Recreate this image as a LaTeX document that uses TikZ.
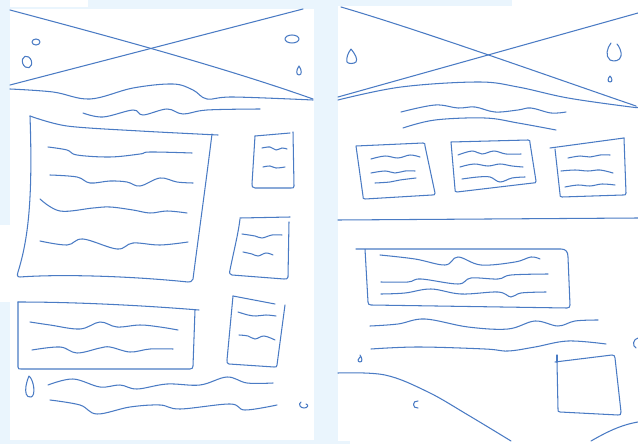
\documentclass[tikz,border=0pt]{standalone}
\usetikzlibrary{calc}
\definecolor{bgblue}{HTML}{EAF5FD}
\definecolor{pen}{HTML}{4A7BC4}
\tikzset{
  ink/.style={draw=pen, line width=1.05pt, line cap=round, line join=round},
  wave/.style={ink},
  sheet/.style={fill=white, draw=none}
}
\begin{document}
\begin{tikzpicture}[x=1pt,y=-1pt]
\useasboundingbox (0,0) rectangle (638,444);
% background
\fill[bgblue] (0,0) rectangle (638,444);
\fill[white] (10,9) rectangle (314,440);
\fill[white] (10,0) rectangle (88,7);
\fill[white] (0,225) rectangle (10,302);
\fill[white] (338,6) rectangle (638,441);
\fill[white] (512,0) rectangle (638,6);
\fill[white] (350,441) rectangle (638,444);

% ================= LEFT SHEET =================
% cross
\draw[ink] (10,10) .. controls (100,34) and (220,66) .. (313,99);
\draw[ink] (10,85) -- (303,9);
% dots
\draw[ink] (36,42) ellipse (4 and 3);
\draw[ink, rotate around={20:(27,62)}] (27,62) ellipse (4.5 and 6);
\draw[ink] (292,39) ellipse (7 and 4);
\draw[ink] (299,66) .. controls (302,70) and (302,75) .. (299,75) .. controls (296,75) and (296,70) .. cycle;
% hill line
\draw[ink] plot[smooth, tension=0.6] coordinates {(10,89) (53,92) (90,99) (133,88) (173,84) (193,90) (207,99) (233,97) (313,100)};
% title wave
\draw[wave] plot[smooth, tension=0.6] coordinates {(83,113) (103,117) (133,110) (143,115) (167,109) (183,114) (207,110) (260,109)};

% big box
\draw[ink] plot[smooth, tension=0.5] coordinates {(30,116) (67,126) (140,131) (218,135)};
\draw[ink] (212,134) .. controls (205,190) and (198,240) .. (193,279) .. controls (192,282) and (190,282) .. (188,282)
  .. controls (130,276) and (60,274) .. (20,277) .. controls (17,277) and (17,275) .. (18,272)
  .. controls (28,240) and (33,200) .. (30,116);
\draw[wave] plot[smooth, tension=0.6] coordinates {(48,147) (67,150) (77,155) (110,157) (140,154) (150,152) (192,153)};
\draw[wave] plot[smooth, tension=0.6] coordinates {(50,175) (77,177) (90,183) (110,181) (127,182) (140,186) (160,178) (177,182) (193,183)};
\draw[wave] plot[smooth, tension=0.6] coordinates {(40,199) (60,211) (93,208) (110,207) (133,210) (150,213) (167,211) (187,213)};
\draw[wave] plot[smooth, tension=0.6] coordinates {(40,241) (67,245) (83,239) (117,249) (133,243) (160,245) (188,242)};

% small box top right
\draw[ink] (255,136) -- (290,133);
\draw[ink] (293,132) -- (294,186) .. controls (294,188) and (293,188) .. (291,188) -- (255,188) .. controls (252,188) and (252,186) .. (252,184) -- (255,136);
\draw[wave] plot[smooth, tension=0.6] coordinates {(262,148) (270,147) (276,150) (282,148) (287,149)};
\draw[wave] plot[smooth, tension=0.6] coordinates {(263,167) (270,166) (276,168) (285,167)};

% box 2 right
\draw[ink] (240,218) -- (290,217);
\draw[ink] (289,222) -- (288,277) .. controls (288,279) and (286,279) .. (284,279) -- (232,275) .. controls (230,275) and (229,273) .. (230,270) .. controls (234,250) and (238,235) .. (240,219);
\draw[wave] plot[smooth, tension=0.6] coordinates {(242,234) (255,236) (262,238) (272,235) (282,235)};
\draw[wave] plot[smooth, tension=0.6] coordinates {(243,252) (252,254) (258,256) (266,253) (273,255)};

% box 3 bottom left
\draw[ink] (18,302) .. controls (80,302) and (150,306) .. (199,310);
\draw[ink] (18,302) -- (18,367) .. controls (18,369) and (19,369) .. (21,369) -- (190,369) .. controls (192,369) and (193,368) .. (193,366) -- (195,310);
\draw[wave] plot[smooth, tension=0.6] coordinates {(30,322) (50,325) (80,329) (100,322) (117,327) (140,325) (160,327) (178,330)};
\draw[wave] plot[smooth, tension=0.6] coordinates {(32,350) (60,347) (77,353) (100,348) (110,347) (130,352) (150,349) (173,349)};

% box 4 bottom right
\draw[ink] (233,296) -- (275,304);
\draw[ink] (285,305) -- (277,365) .. controls (277,367) and (276,367) .. (274,367) -- (229,364) .. controls (227,364) and (227,362) .. (227,360) -- (233,296);
\draw[wave] plot[smooth, tension=0.6] coordinates {(238,312) (248,315) (256,316) (266,315) (276,316)};
\draw[wave] plot[smooth, tension=0.6] coordinates {(239,335) (248,336) (255,339) (264,336) (275,340)};

% bottom text waves
\draw[wave] plot[smooth, tension=0.6] coordinates {(48,385) (73,379) (100,387) (120,385) (137,389) (167,384) (200,385) (227,377) (247,383) (273,383)};
\draw[wave] plot[smooth, tension=0.6] coordinates {(50,400) (80,405) (97,414) (130,407) (160,405) (180,409) (230,404) (245,410) (277,405)};
% drops
\draw[ink] (29,376) .. controls (34,380) and (36,396) .. (31,397) .. controls (26,398) and (25,392) .. (26,386) .. controls (27,381) and (28,378) .. (29,376);
\draw[ink] (301,402) .. controls (298,404) and (300,408) .. (304,408) .. controls (308,408) and (309,405) .. (306,404);

% ================= RIGHT SHEET =================
\draw[ink] (341,7) .. controls (420,30) and (560,80) .. (636,106);
\draw[ink] (338,97) -- (638,13);
\draw[ink] plot[smooth, tension=0.6] coordinates {(338,100) (401,87) (478,82) (518,87) (568,98) (631,107) (636,107)};
% drops
\draw[ink] (351,49) .. controls (355,54) and (358,59) .. (356,62) .. controls (354,64) and (348,64) .. (347,62) .. controls (346,58) and (348,53) .. (351,49);
\draw[ink] (611,43) .. controls (607,48) and (605,56) .. (610,60) .. controls (614,62) and (620,61) .. (621,56) .. controls (622,52) and (619,46) .. (617,44);
\draw[ink] (610,76) .. controls (612,78) and (613,82) .. (610,82) .. controls (607,82) and (608,78) .. (610,76);
% title waves
\draw[wave] plot[smooth, tension=0.6] coordinates {(401,112) (435,105) (458,108) (475,107) (495,112) (518,110) (531,108) (551,113) (566,112)};
\draw[wave] plot[smooth, tension=0.6] coordinates {(403,128) (435,120) (485,118) (518,123) (556,130)};

% three cards
\draw[ink] (356,146) -- (423,143) .. controls (425,143) and (425,144) .. (425,146) -- (435,193) .. controls (435,195) and (434,195) .. (432,195) -- (365,199) .. controls (363,199) and (363,198) .. (363,196) -- cycle;
\draw[wave] plot[smooth, tension=0.6] coordinates {(371,159) (385,156) (398,158) (410,155) (420,157)};
\draw[wave] plot[smooth, tension=0.6] coordinates {(371,173) (385,171) (395,173) (405,171) (415,171)};
\draw[wave] plot[smooth, tension=0.6] coordinates {(375,183) (390,182) (400,180) (416,178)};

\draw[ink] (451,142) -- (528,140) .. controls (530,140) and (530,141) .. (530,143) -- (536,181) .. controls (536,183) and (535,183) .. (533,183) -- (457,192) .. controls (455,192) and (455,191) .. (455,189) -- (451,142);
\draw[wave] plot[smooth, tension=0.6] coordinates {(458,155) (472,151) (482,154) (494,151) (506,154) (521,154)};
\draw[wave] plot[smooth, tension=0.6] coordinates {(460,167) (474,164) (488,166) (500,164) (512,166) (523,167)};
\draw[wave] plot[smooth, tension=0.6] coordinates {(462,179) (478,177) (490,177) (500,182) (512,178) (525,177)};

\draw[ink] (550,148) -- (624,138);
\draw[ink] (624,138) -- (626,193) .. controls (626,195) and (625,195) .. (623,195) -- (562,197) .. controls (560,197) and (560,196) .. (560,194) -- (555,149);
\draw[wave] plot[smooth, tension=0.6] coordinates {(568,158) (580,156) (590,157) (600,155) (610,155)};
\draw[wave] plot[smooth, tension=0.6] coordinates {(561,171) (575,170) (588,171) (600,170) (613,173)};
\draw[wave] plot[smooth, tension=0.6] coordinates {(565,187) (578,185) (590,186) (602,184) (615,185)};

% divider
\draw[ink] (338,220) -- (638,218);

% wide box
\draw[ink] (356,249) -- (561,249) .. controls (566,249) and (568,252) .. (568,257) -- (570,305) .. controls (570,307) and (569,308) .. (567,308) -- (371,305) .. controls (369,305) and (368,304) .. (368,302) -- (365,249);
\draw[wave] plot[smooth, tension=0.6] coordinates {(380,255) (415,259) (445,265) (458,257) (481,265) (515,262) (531,257) (540,259)};
\draw[wave] plot[smooth, tension=0.6] coordinates {(381,282) (408,282) (421,279) (458,284) (471,278) (498,279) (511,275) (548,274)};
\draw[wave] plot[smooth, tension=0.6] coordinates {(381,294) (405,293) (431,289) (461,294) (498,292) (511,297) (521,293) (546,292)};

% waves below
\draw[wave] plot[smooth, tension=0.6] coordinates {(370,326) (398,324) (425,319) (468,327) (508,329) (535,321) (558,326) (575,321) (598,320)};
\draw[wave] plot[smooth, tension=0.6] coordinates {(371,349) (418,347) (485,349) (508,351) (535,347) (568,341) (606,344)};

% small marks
\draw[ink] (360,355) .. controls (362,358) and (363,362) .. (360,362) .. controls (357,362) and (358,358) .. (360,357);
\draw[ink] (638,338) .. controls (633,339) and (632,346) .. (636,348);
\draw[ink] (418,401) .. controls (412,400) and (412,409) .. (418,408);

% small box bottom right
\draw[ink] (557,355) -- (557,362);
\draw[ink] (555,362) -- (612,355) .. controls (614,355) and (615,356) .. (615,358) -- (621,412) .. controls (621,415) and (620,415) .. (618,415) -- (560,412) .. controls (558,412) and (558,411) .. (558,409) -- (557,362);

% landscape curves
\draw[ink] plot[smooth, tension=0.6] coordinates {(338,373) (385,375) (428,392) (468,415) (511,441)};
\draw[ink] (591,441) .. controls (605,433) and (620,425) .. (638,422);
\end{tikzpicture}
\end{document}
